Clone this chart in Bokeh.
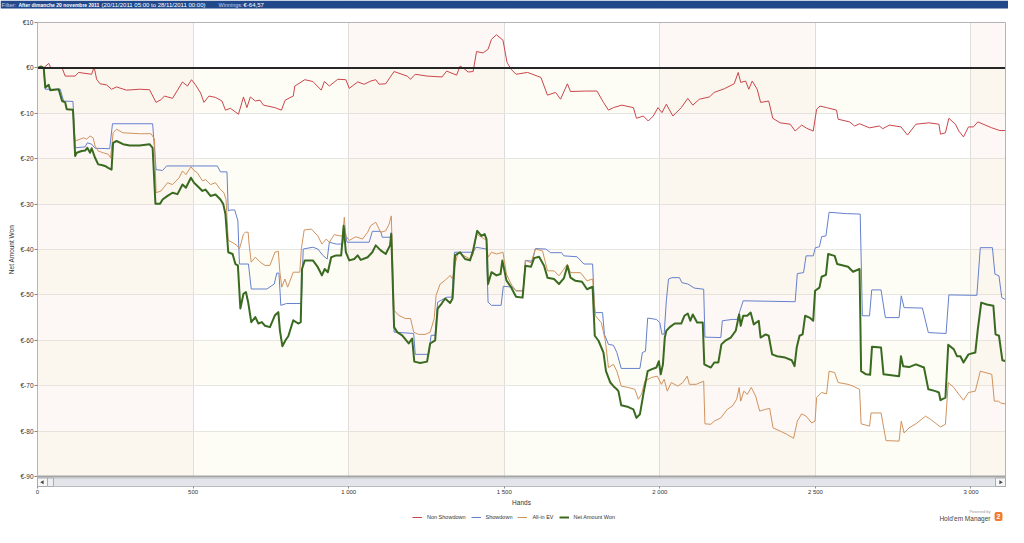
from bokeh.plotting import figure
from bokeh.models import Range1d, Legend, LegendItem, Label
from bokeh.embed import file_html
from bokeh.resources import INLINE

# ---------------- data (hand, net amount in EUR) ----------------
non_showdown = [
    (0, 0), (12, 0.3), (20, 0), (36, 1.0), (43, 0), (79, 0), (89, -1.8), (121, -1.8), (132, -1.0),
    (174, -1.4), (182, 0.2), (190, -2.5), (201, -3.5), (222, -3.75), (238, -4.7), (254, -4.2),
    (286, -4.9), (328, -4.7), (360, -4.8), (381, -7.6), (397, -7.0), (408, -6.2), (434, -6.7),
    (466, -3.1), (482, -4.0), (495, -2.6), (508, -3.75), (524, -5.5), (535, -7.6), (551, -6.2),
    (572, -6.5), (593, -7.3), (604, -9.3), (620, -8.9), (646, -10.2), (662, -6.4), (673, -8.75),
    (684, -6.4), (700, -7.3), (715, -7.1), (726, -8.2), (763, -8.75), (784, -9.3), (796, -7.1),
    (822, -6.2), (827, -4.0), (859, -2.6), (885, -3.0), (912, -4.9), (922, -3.0), (938, -4.0),
    (965, -2.5), (991, -2.6), (1002, -4.5), (1029, -3.1), (1050, -3.6), (1071, -2.9), (1087, -2.6),
    (1098, -3.6), (1119, -3.5), (1146, -0.8), (1188, -1.8), (1199, -2.5), (1214, -1.4), (1252, -1.8),
    (1300, -2.0), (1315, -0.7), (1347, -1.6), (1358, 0.4), (1368, 0), (1384, -0.9), (1400, -0.8),
    (1411, 3.6), (1432, 3.3), (1448, 4.1), (1459, 6.3), (1475, 7.3), (1496, 6.1), (1509, 1.2),
    (1522, -0.3), (1538, -1.4), (1575, -1.0), (1618, -2.1), (1639, -6.0), (1665, -5.4), (1681, -6.9),
    (1703, -3.5), (1713, -5.2), (1761, -5.1), (1798, -5.1), (1819, -7.6), (1835, -9.3), (1851, -8.75),
    (1878, -8.2), (1915, -8.75), (1925, -11.1), (1947, -10.6), (1963, -11.7), (1979, -10.6),
    (1994, -8.75), (2007, -9.85), (2021, -8.0), (2042, -10.6), (2069, -8.75), (2090, -6.7),
    (2106, -8.2), (2127, -6.9), (2159, -6.4), (2175, -5.4), (2207, -4.6), (2239, -3.5), (2252, -1.0),
    (2260, -3.2), (2276, -2.9), (2286, -4.7), (2297, -2.9), (2313, -4.7), (2324, -7.6), (2350, -7.3),
    (2363, -11.1), (2387, -12.1), (2419, -12.4), (2435, -13.9), (2456, -12.6), (2472, -13.3),
    (2493, -13.9), (2504, -9.1), (2515, -8.4), (2536, -8.75), (2568, -9.3), (2573, -11.3),
    (2610, -11.9), (2626, -12.8), (2642, -12.3), (2674, -13.2), (2706, -12.8), (2716, -13.4),
    (2738, -12.6), (2775, -13.0), (2796, -14.8), (2823, -12.4), (2865, -12.1), (2897, -12.4),
    (2902, -14.6), (2918, -14.3), (2929, -11.1), (2950, -12.4), (2961, -13.9), (2976, -15.2),
    (2992, -13.0), (3008, -13.0), (3022, -11.9), (3067, -13.2), (3093, -13.8), (3110, -13.8),
]

showdown = [
    (0, 0), (12, 0.3), (20, 0), (25, -4.7), (73, -4.7), (84, -7.3), (114, -7.4), (121, -17.6),
    (153, -17.4), (160, -16.5), (174, -16.8), (185, -17.7), (232, -17.8), (241, -12.3), (370, -12.3),
    (381, -22.4), (402, -22.6), (415, -21.6), (578, -21.6), (588, -22.9), (609, -22.9), (613, -31.5),
    (620, -31.3), (634, -31.3), (644, -33.7), (649, -43.2), (678, -43.2), (687, -48.7), (737, -48.7),
    (761, -47.6), (769, -45.2), (776, -45.2), (782, -52.3), (800, -51.9), (848, -51.9), (854, -39.9),
    (885, -39.5), (901, -39.9), (917, -41.3), (931, -42.1), (938, -38.4), (960, -38.8), (981, -38.8),
    (986, -35.1), (995, -38.4), (1066, -38.4), (1076, -36.0), (1103, -36.0), (1108, -37.3),
    (1133, -37.3), (1137, -36.2), (1146, -58.2), (1209, -58.5), (1214, -63.1), (1257, -63.1),
    (1265, -58.9), (1278, -58.9), (1286, -51.6), (1316, -50.5), (1332, -50.5), (1340, -40.6),
    (1400, -40.6), (1409, -39.5), (1443, -39.9), (1448, -51.6), (1459, -52.3), (1490, -52.3),
    (1497, -48.1), (1527, -48.3), (1538, -49.1), (1561, -49.1), (1568, -42.4), (1591, -42.6),
    (1600, -39.8), (1634, -39.9), (1649, -40.7), (1684, -40.7), (1692, -41.4), (1734, -41.6),
    (1756, -43.2), (1784, -43.2), (1791, -53.9), (1816, -53.9), (1822, -58.7), (1835, -60.9),
    (1851, -61.1), (1862, -62.7), (1876, -66.2), (1936, -66.2), (1944, -62.7), (1954, -62.4),
    (1961, -55.1), (1989, -55.4), (2000, -56.1), (2007, -58.7), (2014, -58.6), (2021, -51.3),
    (2028, -46.5), (2039, -46.2), (2063, -46.2), (2071, -47.3), (2090, -47.6), (2111, -48.5),
    (2141, -48.75), (2145, -59.3), (2196, -59.4), (2201, -55.7), (2233, -55.4), (2249, -55.4),
    (2258, -53.4), (2268, -51.3), (2435, -51.5), (2442, -45.3), (2462, -45.1), (2470, -41.4),
    (2493, -41.4), (2500, -39.6), (2513, -39.4), (2520, -37.2), (2534, -37.0), (2544, -31.8),
    (2600, -32.1), (2644, -32.2), (2651, -54.6), (2674, -54.6), (2681, -48.9), (2711, -48.9),
    (2725, -55.0), (2769, -55.0), (2776, -50.2), (2785, -52.8), (2844, -52.9), (2863, -58.3),
    (2920, -58.5), (2929, -50.0), (3019, -50.1), (3030, -39.6), (3069, -39.6), (3077, -45.4),
    (3090, -45.8), (3099, -50.6), (3110, -51.0),
]

all_in_ev = [
    (0, 0), (12, 0.3), (20, 0), (25, -4.3), (36, -3.75), (41, -4.9), (68, -4.7), (79, -7.3),
    (89, -7.6), (94, -9.1), (114, -9.2), (121, -16.1), (137, -15.7), (148, -15.4), (158, -15.7),
    (169, -15.0), (179, -15.4), (185, -17.2), (195, -18.3), (211, -18.7), (227, -19.0), (235, -19.8),
    (243, -14.3), (254, -13.5), (275, -14.3), (328, -14.5), (365, -14.5), (376, -15.7), (381, -27.5),
    (397, -27.1), (418, -25.3), (434, -25.7), (455, -24.2), (466, -22.7), (477, -23.5), (493, -21.8),
    (503, -22.6), (514, -23.1), (530, -24.9), (540, -24.6), (556, -25.7), (572, -25.3), (588, -26.8),
    (599, -27.5), (606, -29.0), (613, -38.0), (625, -38.4), (641, -39.1), (649, -39.9), (662, -36.6),
    (668, -36.2), (677, -36.2), (680, -38.8), (687, -42.8), (700, -41.7), (716, -42.8), (731, -43.5),
    (747, -43.5), (763, -40.6), (774, -40.4), (779, -45.0), (785, -48.3), (795, -46.5), (804, -48.3),
    (822, -45.0), (843, -45.0), (848, -39.9), (857, -35.7), (880, -35.5), (901, -37.0), (914, -38.8),
    (928, -37.7), (938, -38.4), (954, -36.7), (970, -37.0), (981, -37.0), (986, -32.9), (991, -37.0),
    (1002, -38.0), (1023, -37.2), (1045, -37.7), (1061, -36.2), (1071, -34.75), (1087, -34.0),
    (1103, -36.2), (1119, -35.9), (1130, -34.4), (1137, -32.6), (1146, -53.4), (1161, -54.5),
    (1182, -55.2), (1199, -55.2), (1209, -58.2), (1225, -58.7), (1246, -58.7), (1262, -58.2),
    (1275, -55.2), (1281, -50.1), (1294, -47.6), (1310, -46.8), (1326, -45.7), (1334, -46.5),
    (1342, -43.2), (1352, -40.6), (1369, -41.3), (1390, -42.1), (1400, -41.1), (1411, -36.6),
    (1427, -37.3), (1443, -38.0), (1448, -41.7), (1459, -40.6), (1475, -41.0), (1496, -40.6),
    (1507, -45.4), (1522, -47.6), (1533, -48.7), (1538, -49.1), (1561, -49.1), (1568, -42.4),
    (1586, -42.9), (1600, -39.9), (1623, -40.3), (1639, -44.7), (1660, -44.7), (1676, -45.8),
    (1692, -44.3), (1703, -43.2), (1713, -45.1), (1745, -45.1), (1766, -46.9), (1784, -46.5),
    (1793, -54.6), (1812, -56.1), (1825, -60.1), (1835, -66.0), (1851, -65.3), (1862, -66.8),
    (1876, -70.1), (1899, -70.4), (1920, -70.8), (1931, -73.0), (1941, -71.9), (1952, -69.0),
    (1973, -68.2), (1992, -67.9), (2005, -69.7), (2014, -68.6), (2024, -71.2), (2037, -69.3),
    (2058, -70.1), (2074, -69.3), (2088, -67.9), (2095, -69.7), (2117, -69.7), (2141, -69.0),
    (2145, -78.4), (2164, -78.5), (2175, -77.8), (2196, -77.1), (2217, -75.2), (2233, -74.5),
    (2247, -73.0), (2255, -70.4), (2260, -73.4), (2270, -71.2), (2281, -71.9), (2294, -70.4),
    (2308, -72.3), (2321, -75.6), (2340, -75.2), (2353, -75.0), (2364, -79.3), (2387, -80.0),
    (2408, -80.7), (2430, -81.6), (2442, -77.8), (2456, -76.2), (2470, -76.7), (2488, -78.2),
    (2499, -77.8), (2504, -72.6), (2520, -71.5), (2536, -71.8), (2544, -66.8), (2562, -67.1),
    (2573, -69.3), (2605, -69.7), (2621, -70.1), (2642, -70.8), (2647, -78.4), (2674, -78.9),
    (2679, -76.0), (2711, -76.0), (2727, -82.1), (2769, -82.2), (2776, -77.8), (2785, -80.4),
    (2801, -79.3), (2823, -78.4), (2854, -76.7), (2870, -77.4), (2902, -79.1), (2918, -78.5),
    (2927, -69.3), (2945, -70.4), (2961, -71.9), (2976, -73.2), (2992, -71.5), (3014, -71.2),
    (3030, -66.8), (3067, -67.5), (3075, -73.4), (3088, -73.4), (3095, -73.8), (3110, -74.0),
]

net_amount_won = [
    (0, 0), (12, 0.3), (20, 0), (25, -4.3), (36, -3.75), (41, -4.9), (68, -4.7), (79, -7.3),
    (89, -7.6), (94, -9.1), (114, -9.2), (121, -19.4), (126, -18.7), (142, -18.3), (153, -18.2),
    (160, -17.6), (169, -18.7), (174, -17.7), (185, -19.8), (195, -21.25), (206, -21.4), (217, -21.6),
    (227, -22.0), (238, -22.4), (243, -16.5), (254, -16.1), (275, -16.8), (296, -17.1), (328, -17.1),
    (360, -16.8), (370, -17.6), (379, -29.9), (394, -29.9), (402, -29.0), (418, -28.2), (434, -27.5),
    (450, -27.8), (466, -25.7), (477, -26.4), (493, -24.2), (503, -25.3), (514, -26.0), (530, -27.1),
    (540, -26.8), (556, -28.2), (572, -27.9), (588, -29.0), (597, -30.0), (604, -32.2), (613, -40.6),
    (627, -41.0), (636, -43.2), (644, -43.5), (652, -53.0), (662, -49.75), (670, -49.4), (677, -51.6),
    (687, -56.0), (700, -54.9), (710, -56.3), (721, -56.0), (731, -56.8), (747, -57.1), (763, -54.5),
    (774, -53.8), (779, -57.8), (787, -61.3), (797, -60.0), (806, -59.1), (822, -55.6), (838, -56.3),
    (846, -56.0), (850, -44.3), (859, -42.4), (885, -42.4), (901, -43.9), (914, -45.7), (923, -44.3),
    (933, -45.0), (944, -41.7), (960, -41.3), (976, -41.3), (984, -34.75), (991, -40.6), (1002, -42.4),
    (1018, -42.1), (1029, -41.3), (1039, -42.3), (1061, -41.7), (1076, -40.6), (1087, -39.1),
    (1103, -40.2), (1119, -41.0), (1133, -39.1), (1137, -36.6), (1146, -57.1), (1156, -58.2),
    (1172, -58.9), (1193, -60.7), (1204, -59.6), (1211, -64.7), (1230, -65.0), (1252, -64.7),
    (1262, -60.7), (1278, -60.0), (1286, -53.0), (1299, -51.9), (1310, -50.8), (1326, -51.8),
    (1334, -50.8), (1342, -41.3), (1358, -40.6), (1374, -42.1), (1390, -42.4), (1400, -40.2),
    (1413, -35.9), (1427, -37.0), (1437, -36.6), (1443, -37.7), (1448, -47.6), (1459, -45.0),
    (1475, -45.7), (1488, -45.4), (1494, -42.4), (1507, -46.8), (1522, -48.3), (1538, -50.4),
    (1559, -50.6), (1568, -43.6), (1586, -43.8), (1596, -41.9), (1612, -41.6), (1628, -43.6),
    (1639, -46.2), (1660, -46.5), (1676, -47.6), (1692, -46.3), (1703, -43.6), (1713, -46.2),
    (1729, -46.9), (1750, -47.1), (1766, -48.75), (1784, -48.2), (1791, -59.0), (1803, -60.1),
    (1819, -62.7), (1827, -66.8), (1841, -69.3), (1851, -70.1), (1862, -70.8), (1867, -71.2),
    (1876, -74.3), (1899, -74.7), (1915, -75.2), (1925, -77.1), (1936, -76.3), (1947, -71.9),
    (1961, -66.8), (1973, -66.4), (1989, -66.0), (1997, -64.6), (2003, -67.5), (2010, -65.3),
    (2016, -59.4), (2021, -57.9), (2032, -57.1), (2048, -56.3), (2069, -56.3), (2079, -54.6),
    (2090, -54.1), (2098, -55.7), (2106, -54.3), (2120, -56.1), (2138, -56.1), (2143, -65.3),
    (2154, -65.7), (2164, -66.0), (2175, -64.9), (2188, -64.9), (2198, -60.9), (2212, -60.0),
    (2228, -59.4), (2244, -57.9), (2255, -54.3), (2260, -56.8), (2268, -54.6), (2281, -54.6),
    (2292, -53.9), (2302, -56.5), (2318, -55.7), (2324, -59.4), (2340, -58.7), (2350, -59.0),
    (2361, -63.1), (2377, -63.5), (2403, -63.8), (2424, -64.4), (2433, -65.7), (2440, -61.6),
    (2449, -59.0), (2459, -58.7), (2467, -54.6), (2481, -55.0), (2493, -55.7), (2499, -49.1),
    (2513, -48.4), (2520, -46.0), (2534, -45.6), (2541, -41.0), (2562, -41.4), (2570, -43.2),
    (2605, -43.8), (2621, -44.9), (2642, -44.3), (2647, -66.8), (2663, -67.5), (2676, -67.6),
    (2682, -61.4), (2711, -61.6), (2719, -67.5), (2769, -67.9), (2775, -63.5), (2782, -65.7),
    (2801, -65.9), (2823, -65.3), (2849, -66.0), (2863, -70.8), (2886, -71.2), (2897, -71.5),
    (2902, -73.2), (2918, -72.6), (2927, -61.0), (2945, -62.0), (2955, -63.5), (2966, -63.5),
    (2976, -64.9), (2992, -63.1), (3014, -62.7), (3022, -57.6), (3033, -51.7), (3051, -52.1),
    (3072, -52.4), (3079, -58.7), (3090, -59.0), (3101, -64.4), (3110, -64.57),
]

series_names = ["Non Showdown", "Showdown", "All-in EV", "Net Amount Won"]
series_colors = ["#c9464a", "#6580cc", "#d0935e", "#3a6a20"]
series_widths = [1, 1, 1, 2]

x_ticks = [0, 500, 1000, 1500, 2000, 2500, 3000]
x_tick_labels = ["0", "500", "1 000", "1 500", "2 000", "2 500", "3 000"]
y_ticks = [10, 0, -10, -20, -30, -40, -50, -60, -70, -80, -90]
y_tick_labels = ["€10", "€0", "€-10", "€-20", "€-30", "€-40", "€-50", "€-60", "€-70", "€-80", "€-90"]

header_parts = [("Filter:", "normal", "#c4d2ea", "6px"),
                ("After dimanche 20 novembre 2011", "bold", "#ffffff", "5px"),
                ("(20/11/2011 05:00 to 28/11/2011 00:00)", "normal", "#ffffff", "6px"),
                ("Winnings:", "normal", "#c4d2ea", "5.5px"),
                ("€-64,57", "normal", "#ffffff", "6px")]
header_x = [1, 18, 101, 218, 243]   # canvas px

FONT = "Liberation Sans"
W, H = 1008, 527
X_END = 3111                 # last hand shown
PL, PR = 37, 1005            # plot area left / right on the canvas (px)
PT, P90 = 22, 476            # canvas y of +10 EUR and of -90 EUR
SB_BOTTOM_PX = 486           # bottom of the scrollbar strip

pxh = (PR - PL) / X_END
upp = (max(y_ticks) - min(y_ticks)) / (P90 - PT)
Y_TOP = max(y_ticks)
Y_MIN = min(y_ticks)
x_range = Range1d(-PL / pxh, X_END + (W - PR) / pxh)
y_range = Range1d(Y_MIN - (H - P90) * upp, Y_TOP + PT * upp)
Y_SB = Y_MIN - (SB_BOTTOM_PX - P90) * upp


def ydat(px):
    return Y_TOP - (px - PT) * upp


p = figure(width=W, height=H, x_range=x_range, y_range=y_range,
           output_backend="svg", toolbar_location=None, tools="")
p.min_border = 0
p.min_border_left = 0
p.min_border_right = 0
p.min_border_top = 0
p.min_border_bottom = 0
p.background_fill_color = "#ffffff"
p.border_fill_color = "#ffffff"
p.outline_line_color = None

# axes sit at fixed data positions inside the canvas
p.xaxis.fixed_location = Y_SB
p.xaxis.ticker = x_ticks
p.xaxis.major_label_overrides = dict(zip(x_ticks, x_tick_labels))
p.xaxis.axis_line_color = None
p.xaxis.major_tick_out = 2
p.xaxis.major_tick_in = 0
p.xaxis.major_tick_line_color = "#8a8a8a"
p.xaxis.minor_tick_line_color = None
p.xaxis.major_label_standoff = 0
p.xaxis.major_label_text_font = FONT
p.xaxis.major_label_text_font_size = "6px"
p.xaxis.major_label_text_color = "#333333"
p.xaxis.axis_label = "Hands"
p.xaxis.axis_label_text_font = FONT
p.xaxis.axis_label_text_font_size = "6.5px"
p.xaxis.axis_label_text_font_style = "normal"
p.xaxis.axis_label_text_color = "#333333"
p.xaxis.axis_label_standoff = 1
p.xaxis.bounds = (0, X_END)

p.yaxis.fixed_location = 0
p.yaxis.ticker = y_ticks
p.yaxis.major_label_overrides = dict(zip(y_ticks, y_tick_labels))
p.yaxis.axis_line_color = None
p.yaxis.major_tick_out = 3
p.yaxis.major_tick_in = 0
p.yaxis.major_tick_line_color = "#8a8a8a"
p.yaxis.minor_tick_line_color = None
p.yaxis.major_label_standoff = 1
p.yaxis.major_label_text_font = FONT
p.yaxis.major_label_text_font_size = "6.5px"
p.yaxis.major_label_text_color = "#333333"
p.yaxis.axis_label = "Net Amount Won"
p.yaxis.axis_label_text_font = FONT
p.yaxis.axis_label_text_font_size = "6.5px"
p.yaxis.axis_label_text_font_style = "normal"
p.yaxis.axis_label_text_color = "#333333"
p.yaxis.axis_label_standoff = 2
p.yaxis.bounds = (Y_MIN, Y_TOP)

p.xgrid.ticker = x_ticks
p.ygrid.ticker = y_ticks
p.xgrid.grid_line_color = "#dedede"
p.ygrid.grid_line_color = "#e6e6e6"

# white cover outside the plot area (hides grid lines there)
xs0, xs1 = x_range.start, x_range.end
ys0, ys1 = y_range.start, y_range.end
p.quad(left=[xs0, xs0, X_END, xs0], right=[0, xs1, xs1, xs1],
       bottom=[ys0, Y_TOP, ys0, ys0], top=[ys1, ys1, ys1, Y_SB],
       fill_color="#ffffff", line_color=None)

# alternating background bands (yellowish rows, pinkish columns)
y_sorted = sorted(y_ticks)
p.quad(left=0, right=X_END,
       bottom=[y_sorted[i] for i in range(0, len(y_sorted) - 1, 2)],
       top=[y_sorted[i + 1] for i in range(0, len(y_sorted) - 1, 2)],
       fill_color="#f0f0b8", fill_alpha=0.13, line_color=None)
x_starts = [x_ticks[i] for i in range(0, len(x_ticks), 2)]
p.quad(left=x_starts, right=[min(s + 500, X_END) for s in x_starts],
       bottom=Y_MIN, top=Y_TOP,
       fill_color="#ecc2b8", fill_alpha=0.12, line_color=None)

# series
renderers = []
for name, data, color, width in zip(series_names,
                                    [non_showdown, showdown, all_in_ev, net_amount_won],
                                    series_colors, series_widths):
    hx = [h for h, v in data]
    vy = [v for h, v in data]
    r = p.line(hx, vy, line_color=color, line_width=width, line_join="round")
    renderers.append((name, r))

# zero line, separator above the scrollbar, plot border
p.segment(x0=0, x1=X_END, y0=0, y1=0, line_color="#262626", line_width=2)
p.segment(x0=0, x1=X_END, y0=Y_MIN, y1=Y_MIN, line_color="#a4a4a4", line_width=2)
p.segment(x0=[0, 0, X_END], x1=[X_END, 0, X_END], y0=[Y_TOP, Y_TOP, Y_TOP], y1=[Y_TOP, Y_SB, Y_SB],
          line_color="#b4b4b4", line_width=1)

# scrollbar strip under the plot
sb_top = ydat(P90 + 1.5)
sb_bot = Y_SB
btn = 10 / pxh
p.quad(left=0, right=X_END, bottom=sb_bot, top=sb_top, fill_color="#e2e5e9", line_color="#b9bdc3")
p.quad(left=[0, X_END - btn], right=[btn, X_END], bottom=sb_bot, top=sb_top,
       fill_color="#f6f6f6", line_color="#a9adb3")
p.quad(left=btn, right=btn * 1.6, bottom=sb_bot, top=sb_top, fill_color="#eceef1", line_color="#a9adb3")
p.scatter(x=[btn / 2, X_END - btn / 2], y=[(sb_top + sb_bot) / 2] * 2, marker="triangle",
          angle=[1.5708, -1.5708], size=4, fill_color="#444444", line_color=None)

# header bar across the top of the canvas
p.quad(left=xs0, right=xs1, bottom=ydat(8), top=ys1, fill_color="#20488a", line_color=None)
for (txt, style, col, size), hx in zip(header_parts, header_x):
    p.add_layout(Label(x=hx, y=H - 4, x_units="screen", y_units="screen", text=txt,
                       text_font=FONT, text_font_size=size, text_font_style=style,
                       text_color=col, text_align="left", text_baseline="middle"))

# legend under the axis title
legend = Legend(items=[LegendItem(label=n, renderers=[r]) for n, r in renderers],
                orientation="horizontal", location=(412, 6),
                glyph_width=10, glyph_height=8, label_height=8, label_standoff=5, spacing=5,
                padding=0, margin=0, border_line_color=None, background_fill_alpha=0,
                label_text_font=FONT, label_text_font_size="5.5px", label_text_color="#333333")
p.add_layout(legend)

# "Powered by Hold'em Manager" mark
p.add_layout(Label(x=990, y=H - 511, x_units="screen", y_units="screen", text="Powered by",
                   text_font=FONT, text_font_size="4px", text_color="#9a9a9a",
                   text_align="right", text_baseline="middle"))
p.add_layout(Label(x=990, y=H - 518, x_units="screen", y_units="screen", text="Hold'em Manager",
                   text_font=FONT, text_font_size="6.5px", text_color="#444444",
                   text_align="right", text_baseline="middle"))
p.add_layout(Label(x=998, y=H - 516, x_units="screen", y_units="screen", text="2",
                   text_font=FONT, text_font_size="7px", text_font_style="bold", text_color="#ffffff",
                   text_align="center", text_baseline="middle",
                   background_fill_color="#f07b2c", padding=2, border_radius=2))

open("out.html", "w").write(file_html(p, INLINE))
